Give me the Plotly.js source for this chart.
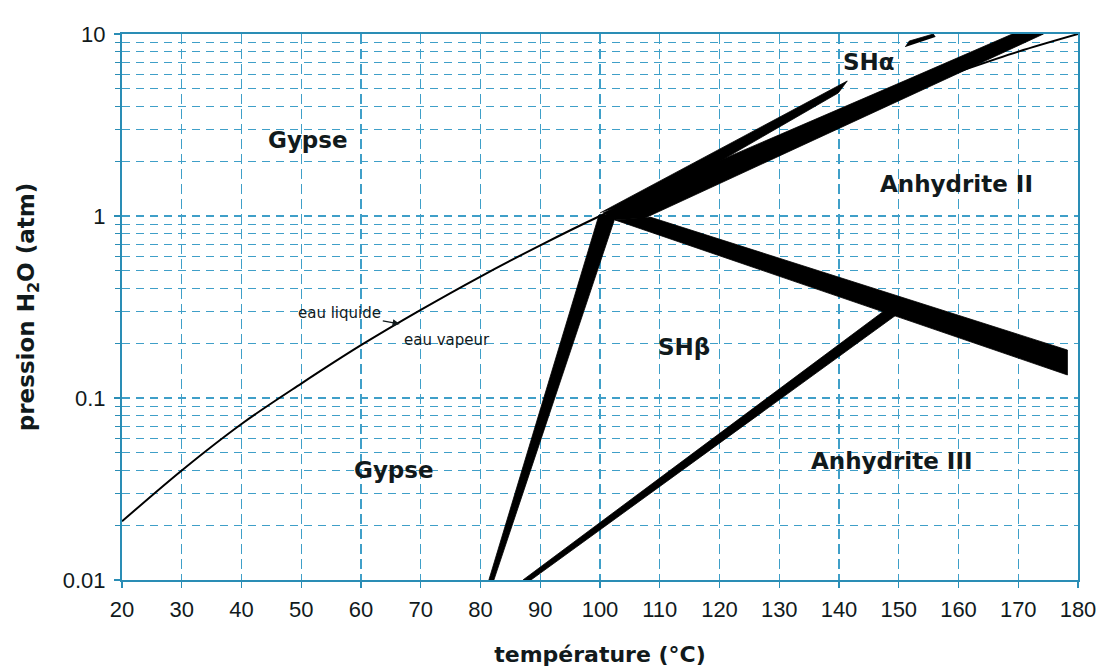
<!DOCTYPE html>
<html>
<head>
<meta charset="utf-8">
<script src="https://cdn.plot.ly/plotly-3.0.1.min.js"></script>
<style>html,body{margin:0;padding:0;background:#fff;}#chart{width:1099px;height:672px;}</style>
</head>
<body>
<div id="chart"></div>
<script>
// Liquid / vapour water equilibrium curve
const waterT = [20, 30, 40, 50, 60, 70, 80, 90, 100, 110, 120, 130, 140, 150, 160, 170, 180];
const waterP = [0.021, 0.04, 0.072, 0.12, 0.195, 0.305, 0.465, 0.69, 1.0, 1.4, 1.95, 2.65, 3.55, 4.75, 6.2, 8.0, 10];

// Equilibrium bands (outline of each black band: temperature °C, pressure atm)
const bandGypseSHbT = [81.40, 99.83, 102.68, 82.24];
const bandGypseSHbP = [0.01, 1.013, 1.013, 0.01];

const bandSHbAnhIIT = [108.37, 178.23, 178.23, 102.51];
const bandSHbAnhIIP = [0.987, 0.1835, 0.1338, 0.951];

const bandAnhIIT = [100.50, 116.75, 152.43, 169.02, 174.21, 107.53, 102.51];
const bandAnhIIP = [1.039, 1.813, 5.80, 10, 10, 0.975, 0.951];

const bandSHaT = [100.00, 141.38, 139.87, 116.75, 106.70];
const bandSHaP = [1.039, 5.52, 4.74, 1.73, 1.224];

const bandSHaTopT = [151.09, 151.76, 155.78, 156.11];
const bandSHaTopP = [8.48, 9.15, 10, 9.63];

const bandAnhIIIT = [87.10, 147.74, 150.26, 88.44];
const bandAnhIIIP = [0.01, 0.3045, 0.2969, 0.01];

// Axis ticks
const xTicks = [20, 30, 40, 50, 60, 70, 80, 90, 100, 110, 120, 130, 140, 150, 160, 170, 180];
const yTickVals = [0.01, 0.1, 1, 10];
const yTickText = ['0.01', '0.1', '1', '10'];

// Region labels
const regionLabels = ['Gypse', 'Gypse', 'SHα', 'Anhydrite II', 'SHβ', 'Anhydrite III'];
const regionLabelT = [51.1, 65.5, 145.1, 159.6, 114.1, 148.8];
const regionLabelP = [2.62, 0.0402, 7.02, 1.50, 0.1906, 0.0451];

const GRID = '#3f9fc8';
const AXIS = '#2a8db5';
const INK = '#111a1c';

function band(T, P) {
  return {x: T, y: P, type: 'scatter', mode: 'lines', fill: 'toself',
    fillcolor: '#000', line: {color: '#000', width: 0.8}, hoverinfo: 'skip', showlegend: false};
}

const traces = [
  band(bandGypseSHbT, bandGypseSHbP),
  band(bandSHbAnhIIT, bandSHbAnhIIP),
  band(bandAnhIIT, bandAnhIIP),
  band(bandSHaT, bandSHaP),
  band(bandSHaTopT, bandSHaTopP),
  band(bandAnhIIIT, bandAnhIIIP),
  {x: waterT, y: waterP, type: 'scatter', mode: 'lines',
   line: {color: '#000', width: 2, shape: 'spline'}, showlegend: false, hoverinfo: 'skip'}
];

const minorVals = [];
[0.01, 0.1, 1].forEach(d => { for (let k = 2; k <= 9; k++) minorVals.push(+(d * k).toPrecision(3)); });

const annotations = regionLabels.map((t, i) => ({
  x: regionLabelT[i], y: Math.log10(regionLabelP[i]), xref: 'x', yref: 'y',
  text: t, showarrow: false, xanchor: 'center', yanchor: 'middle',
  font: {family: 'DejaVu Sans', size: 23, color: INK, weight: 'bold'}
}));
annotations.push({
  x: 66.49, y: Math.log10(0.255), xref: 'x', yref: 'y', text: 'eau liquide',
  showarrow: true, ax: -60, ay: -11, arrowhead: 2, arrowsize: 1.2, arrowwidth: 1.2,
  arrowcolor: INK, standoff: 0, startstandoff: 0,
  font: {family: 'DejaVu Sans', size: 15, color: INK}
});
annotations.push({
  x: 74.37, y: Math.log10(0.2083), xref: 'x', yref: 'y', text: 'eau vapeur',
  showarrow: false, font: {family: 'DejaVu Sans', size: 15, color: INK}
});

const layout = {
  width: 1099, height: 672,
  margin: {l: 122, r: 21, t: 34, b: 92},
  paper_bgcolor: '#fff', plot_bgcolor: '#fff',
  showlegend: false,
  font: {family: 'Liberation Sans, Arial, sans-serif', color: INK},
  xaxis: {
    range: [20, 180], tickvals: xTicks, ticktext: xTicks.map(String),
    showgrid: true, gridcolor: GRID, gridwidth: 1.2, griddash: '10px,5px',
    showline: true, mirror: true, linecolor: AXIS, linewidth: 2,
    ticks: 'outside', ticklen: 6, tickcolor: AXIS, tickwidth: 1.2,
    ticklabelstandoff: 3,
    tickfont: {family: 'Liberation Sans, Arial, sans-serif', size: 22, color: INK},
    zeroline: false, automargin: false,
    title: {text: 'température (°C)', standoff: 25,
      font: {family: 'DejaVu Sans', size: 22, color: INK, weight: 'bold'}}
  },
  yaxis: {
    type: 'log', range: [-2, 1], tickvals: yTickVals, ticktext: yTickText,
    showgrid: true, gridcolor: GRID, gridwidth: 1.2, griddash: '8px,6px',
    showline: true, mirror: true, linecolor: AXIS, linewidth: 2,
    ticks: 'outside', ticklen: 6, tickcolor: AXIS, tickwidth: 1.2,
    ticklabelstandoff: 4,
    tickfont: {family: 'Liberation Sans, Arial, sans-serif', size: 22, color: INK},
    minor: {tickvals: minorVals, showgrid: true, gridcolor: GRID, gridwidth: 1.2,
      griddash: '8px,6px', ticks: 'outside', ticklen: 5, tickcolor: AXIS},
    zeroline: false, automargin: false,
    title: {text: 'pression H<sub>2</sub>O (atm)', standoff: 22,
      font: {family: 'DejaVu Sans', size: 23, color: INK, weight: 'bold'}}
  },
  annotations: annotations
};

Plotly.newPlot('chart', traces, layout, {staticPlot: true, displayModeBar: false});
</script>
</body>
</html>
